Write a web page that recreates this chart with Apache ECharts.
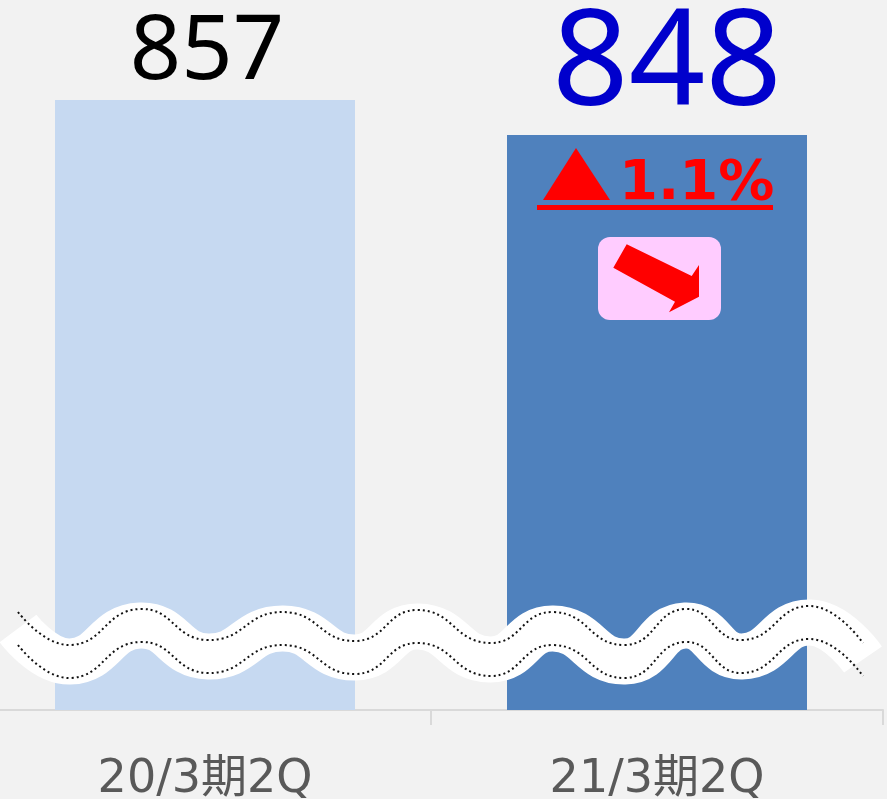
<!DOCTYPE html>
<html>
<head>
<meta charset="utf-8">
<script src="https://cdn.jsdelivr.net/npm/echarts@6/dist/echarts.min.js"></script>
<style>
  html, body { margin: 0; padding: 0; background: #f2f2f2; overflow: hidden; }
  body { position: relative; width: 887px; height: 799px; }
  /* 左端の目盛りを画面外に出すため、左へ 21px ずらす */
  #chart { position: absolute; left: -21px; top: 0; width: 908px; height: 799px; }
</style>
</head>
<body>
<div id="chart"></div>
<script>
// データ
const categories = ['20/3期2Q', '21/3期2Q'];
const values = [857, 848];
const barColors = ['#c6d9f1', '#4f81bd'];
const valueLabelColors = ['#000000', '#0000cc'];
const valueLabelSizes = [90, 134];
const valueLabelDistances = [2, 1];
const valueLabelOffsets = [[2, 0], [10, 0]];
const changeText = '1.1%';

// 波線（省略記号）の上側の点（画面座標）
const waveTop = [
  [18, 612], [70, 645], [140, 609], [208, 640], [283, 612], [355, 641], [418, 610],
  [490, 643], [553, 612], [625, 645], [685, 609], [742, 640], [810, 606], [863, 643]
];
const waveGap = 33;
const offsetX = 21;

const chart = echarts.init(document.getElementById('chart'));

const option = {
  backgroundColor: '#f2f2f2',
  animation: false,
  grid: { left: 0, right: 4, top: 10.6, bottom: 89, outerBoundsMode: 'none' },
  xAxis: {
    type: 'category',
    data: categories,
    axisLine: { lineStyle: { color: '#d9d9d9', width: 2 } },
    axisTick: { show: true, length: 15, lineStyle: { color: '#d9d9d9', width: 2 } },
    axisLabel: {
      color: '#595959',
      fontSize: 46,
      fontFamily: '"DejaVu Sans", "Noto Sans CJK JP"',
      margin: 47
    }
  },
  yAxis: {
    type: 'value',
    min: 700,
    max: 880,
    show: false,
    splitLine: { show: false }
  },
  series: [{
    type: 'bar',
    barWidth: 300,
    data: values.map((v, i) => ({
      value: v,
      itemStyle: { color: barColors[i] },
      label: {
        show: true,
        position: 'top',
        distance: valueLabelDistances[i],
        offset: valueLabelOffsets[i],
        color: valueLabelColors[i],
        fontSize: valueLabelSizes[i],
        lineHeight: valueLabelSizes[i],
        fontFamily: 'Noto Sans'
      }
    }))
  }]
};

chart.setOption(option);

// 注記は2本目の棒の位置から配置
const p = chart.convertToPixel({ seriesIndex: 0 }, [1, values[1]]);
const cx = p[0];
const barTop = p[1];

const shift = (pts, dy) => pts.map(q => [q[0] + offsetX, q[1] + dy]);

chart.setOption({
  graphic: [
    // 波線
    {
      type: 'polyline', z: 100, silent: true,
      shape: { points: shift(waveTop, waveGap / 2), smooth: 0.5 },
      style: { stroke: '#ffffff', lineWidth: 46, fill: null, lineCap: 'butt', lineJoin: 'round' }
    },
    {
      type: 'polyline', z: 101, silent: true,
      shape: { points: shift(waveTop, 0), smooth: 0.5 },
      style: { stroke: '#111', lineWidth: 2, fill: null, lineDash: [2, 3] }
    },
    {
      type: 'polyline', z: 101, silent: true,
      shape: { points: shift(waveTop, waveGap), smooth: 0.5 },
      style: { stroke: '#111', lineWidth: 2, fill: null, lineDash: [2, 3] }
    },
    // ▲1.1%
    {
      type: 'polygon', z: 110, silent: true,
      shape: { points: [[cx - 114, barTop + 65], [cx - 47, barTop + 65], [cx - 81, barTop + 13]] },
      style: { fill: '#ff0000' }
    },
    {
      type: 'text', z: 110, silent: true,
      x: cx - 38, y: barTop + 78,
      style: {
        text: changeText,
        fill: '#ff0000',
        font: 'bold 56px "DejaVu Sans"',
        textAlign: 'left',
        textVerticalAlign: 'bottom'
      }
    },
    {
      type: 'rect', z: 110, silent: true,
      shape: { x: cx - 120, y: barTop + 70, width: 236, height: 5 },
      style: { fill: '#ff0000' }
    },
    // 矢印ボックス
    {
      type: 'rect', z: 110, silent: true,
      shape: { x: cx - 59, y: barTop + 102, width: 123, height: 83, r: 12 },
      style: { fill: '#ffccff' }
    },
    {
      type: 'polygon', z: 111, silent: true,
      shape: {
        points: [
          [cx - 30.3, barTop + 109.3], [cx + 34.7, barTop + 141], [cx + 42, barTop + 130],
          [cx + 42, barTop + 161.7], [cx + 12, barTop + 177.3], [cx + 18, barTop + 166.7],
          [cx - 43.7, barTop + 132.7]
        ]
      },
      style: { fill: '#ff0000' }
    }
  ]
});

window.addEventListener('resize', () => chart.resize());
</script>
</body>
</html>
